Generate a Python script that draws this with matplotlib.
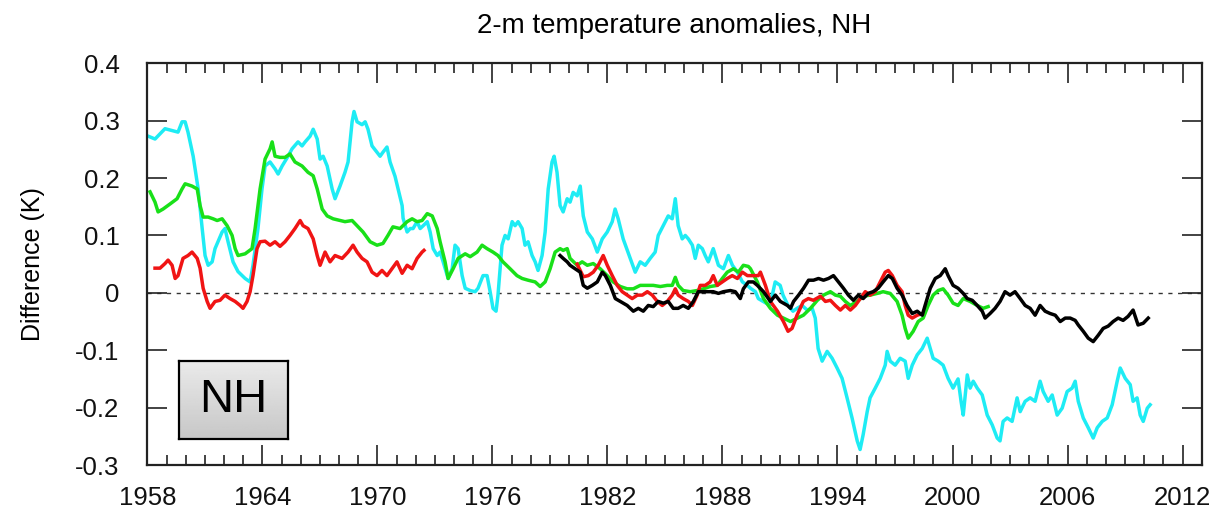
import numpy as np
import matplotlib
matplotlib.use("Agg")
import matplotlib.pyplot as plt
from matplotlib.ticker import MultipleLocator

plt.rcParams["font.family"] = ["Liberation Sans", "DejaVu Sans"]

# cyan run, 1958-2010
cyan_years = [1958.04, 1958.40, 1958.92, 1959.60, 1959.81, 1959.97, 1960.12, 1960.39, 1960.65, 1960.86,
              1961.01, 1961.17, 1961.38, 1961.53, 1961.90, 1962.05, 1962.21, 1962.47, 1962.73, 1963.10,
              1963.36, 1963.51, 1963.77, 1963.98, 1964.14, 1964.40, 1964.66, 1964.82, 1965.03, 1965.34,
              1965.55, 1965.86, 1966.07, 1966.23, 1966.49, 1966.65, 1966.86, 1967.01, 1967.17, 1967.38,
              1967.64, 1967.79, 1968.05, 1968.31, 1968.47, 1968.68, 1968.78, 1968.94, 1969.20, 1969.36,
              1969.51, 1969.72, 1969.98, 1970.14, 1970.29, 1970.50, 1970.66, 1970.92, 1971.08, 1971.29,
              1971.34, 1971.55, 1971.71, 1971.86, 1972.07, 1972.23, 1972.39, 1972.60, 1972.75, 1972.91,
              1973.12, 1973.27, 1973.43, 1973.69, 1973.90, 1974.05, 1974.21, 1974.42, 1974.58, 1974.84,
              1975.10, 1975.25, 1975.51, 1975.72, 1975.88, 1976.03, 1976.19, 1976.29, 1976.50, 1976.66,
              1976.82, 1977.03, 1977.18, 1977.34, 1977.55, 1977.70, 1977.86, 1978.07, 1978.23, 1978.38,
              1978.59, 1978.75, 1978.91, 1979.11, 1979.22, 1979.37, 1979.53, 1979.69, 1979.90, 1980.05,
              1980.21, 1980.42, 1980.58, 1980.74, 1980.95, 1981.21, 1981.47, 1981.73, 1981.99, 1982.25,
              1982.40, 1982.56, 1982.82, 1983.19, 1983.45, 1983.71, 1983.97, 1984.23, 1984.49, 1984.65,
              1984.91, 1985.17, 1985.38, 1985.54, 1985.69, 1985.90, 1986.06, 1986.22, 1986.43, 1986.58,
              1986.74, 1986.95, 1987.10, 1987.26, 1987.52, 1987.79, 1988.05, 1988.31, 1988.52, 1988.78,
              1989.04, 1989.30, 1989.46, 1989.72, 1989.87, 1990.12, 1990.48, 1990.75, 1991.01, 1991.16,
              1991.42, 1991.68, 1991.89, 1992.15, 1992.42, 1992.68, 1992.84, 1992.99, 1993.20, 1993.46,
              1993.72, 1993.98, 1994.24, 1994.50, 1994.76, 1995.03, 1995.18, 1995.34, 1995.55, 1995.70,
              1995.97, 1996.23, 1996.49, 1996.59, 1996.75, 1997.01, 1997.27, 1997.53, 1997.69, 1997.90,
              1998.16, 1998.42, 1998.68, 1998.84, 1998.99, 1999.25, 1999.51, 1999.77, 2000.03, 2000.29,
              2000.45, 2000.56, 2000.77, 2000.92, 2001.08, 2001.29, 2001.55, 2001.81, 2002.07, 2002.33,
              2002.48, 2002.64, 2002.85, 2003.11, 2003.37, 2003.53, 2003.79, 2004.05, 2004.31, 2004.57,
              2004.73, 2004.99, 2005.20, 2005.46, 2005.72, 2005.98, 2006.24, 2006.40, 2006.56, 2006.82,
              2007.08, 2007.34, 2007.55, 2007.81, 2008.07, 2008.33, 2008.59, 2008.75, 2009.01, 2009.27,
              2009.42, 2009.63, 2009.79, 2009.95, 2010.16, 2010.31]
cyan_vals = [0.273, 0.268, 0.286, 0.280, 0.298, 0.298, 0.280, 0.238, 0.181, 0.112,
             0.065, 0.048, 0.054, 0.077, 0.106, 0.112, 0.089, 0.054, 0.037, 0.025,
             0.019, 0.048, 0.112, 0.181, 0.221, 0.228, 0.216, 0.207, 0.221, 0.238,
             0.251, 0.263, 0.256, 0.263, 0.273, 0.285, 0.268, 0.233, 0.238, 0.221,
             0.181, 0.164, 0.186, 0.210, 0.228, 0.298, 0.316, 0.298, 0.293, 0.298,
             0.285, 0.256, 0.245, 0.238, 0.245, 0.254, 0.228, 0.203, 0.181, 0.152,
             0.130, 0.106, 0.112, 0.112, 0.124, 0.112, 0.117, 0.124, 0.106, 0.077,
             0.065, 0.071, 0.054, 0.025, 0.042, 0.083, 0.077, 0.030, 0.008, 0.004,
             0.002, 0.008, 0.030, 0.030, 0.002, -0.027, -0.032, -0.004, 0.083, 0.100,
             0.094, 0.124, 0.117, 0.124, 0.112, 0.083, 0.089, 0.065, 0.054, 0.039,
             0.065, 0.106, 0.181, 0.228, 0.238, 0.210, 0.152, 0.141, 0.164, 0.158,
             0.175, 0.169, 0.186, 0.134, 0.106, 0.094, 0.071, 0.094, 0.106, 0.124,
             0.146, 0.129, 0.094, 0.060, 0.036, 0.054, 0.048, 0.060, 0.071, 0.100,
             0.117, 0.134, 0.129, 0.164, 0.117, 0.094, 0.100, 0.094, 0.083, 0.060,
             0.083, 0.077, 0.065, 0.054, 0.077, 0.048, 0.042, 0.065, 0.048, 0.036,
             0.019, 0.013, 0.008, 0.002, -0.010, -0.015, -0.022, 0.019, 0.013, -0.004,
             -0.022, -0.032, -0.027, -0.022, -0.030, -0.027, -0.044, -0.097, -0.119, -0.102,
             -0.114, -0.131, -0.149, -0.183, -0.218, -0.258, -0.273, -0.247, -0.207, -0.183,
             -0.166, -0.149, -0.126, -0.102, -0.119, -0.126, -0.114, -0.119, -0.149, -0.126,
             -0.108, -0.097, -0.079, -0.097, -0.114, -0.119, -0.126, -0.149, -0.166, -0.150,
             -0.190, -0.213, -0.143, -0.166, -0.154, -0.166, -0.178, -0.213, -0.230, -0.253,
             -0.258, -0.224, -0.218, -0.224, -0.183, -0.207, -0.189, -0.183, -0.189, -0.154,
             -0.172, -0.189, -0.178, -0.213, -0.201, -0.172, -0.166, -0.154, -0.189, -0.218,
             -0.235, -0.253, -0.235, -0.224, -0.218, -0.195, -0.154, -0.131, -0.149, -0.160,
             -0.189, -0.183, -0.213, -0.224, -0.201, -0.195]

# green run, 1958-2001
green_years = [1958.14, 1958.40, 1958.56, 1958.82, 1959.19, 1959.55, 1959.81, 1959.97, 1960.33, 1960.60,
               1960.75, 1960.91, 1961.17, 1961.43, 1961.64, 1961.90, 1962.16, 1962.42, 1962.58, 1962.73,
               1963.10, 1963.46, 1963.62, 1963.88, 1964.14, 1964.40, 1964.51, 1964.66, 1964.92, 1965.18,
               1965.44, 1965.70, 1966.07, 1966.38, 1966.65, 1966.86, 1967.12, 1967.38, 1967.69, 1968.05,
               1968.31, 1968.68, 1968.94, 1969.25, 1969.62, 1969.98, 1970.29, 1970.55, 1970.81, 1971.18,
               1971.55, 1971.81, 1972.07, 1972.33, 1972.60, 1972.86, 1973.12, 1973.27, 1973.53, 1973.69,
               1973.95, 1974.21, 1974.58, 1974.84, 1975.20, 1975.46, 1975.72, 1976.03, 1976.29, 1976.55,
               1976.92, 1977.28, 1977.55, 1977.86, 1978.23, 1978.49, 1978.75, 1979.01, 1979.27, 1979.53,
               1979.69, 1979.90, 1980.05, 1980.42, 1980.68, 1980.95, 1981.26, 1981.62, 1981.99, 1982.30,
               1982.67, 1983.03, 1983.35, 1983.71, 1984.08, 1984.39, 1984.76, 1985.12, 1985.38, 1985.54,
               1985.69, 1985.95, 1986.32, 1986.68, 1987.00, 1987.36, 1987.73, 1987.99, 1988.25, 1988.57,
               1988.83, 1989.09, 1989.35, 1989.46, 1989.82, 1990.14, 1990.50, 1990.87, 1991.18, 1991.55,
               1991.91, 1992.22, 1992.59, 1992.95, 1993.27, 1993.63, 1993.89, 1994.15, 1994.41, 1994.67,
               1995.03, 1995.34, 1995.70, 1996.07, 1996.38, 1996.75, 1997.11, 1997.37, 1997.53, 1997.69,
               1997.95, 1998.21, 1998.47, 1998.73, 1998.99, 1999.25, 1999.51, 1999.77, 2000.03, 2000.29,
               2000.56, 2000.92, 2001.29, 2001.60, 2001.86]
green_vals = [0.176, 0.158, 0.141, 0.146, 0.155, 0.164, 0.181, 0.190, 0.186, 0.181,
              0.152, 0.132, 0.132, 0.129, 0.126, 0.129, 0.117, 0.100, 0.077, 0.065,
              0.068, 0.077, 0.112, 0.181, 0.233, 0.251, 0.263, 0.238, 0.236, 0.236,
              0.242, 0.228, 0.221, 0.210, 0.204, 0.181, 0.146, 0.134, 0.129, 0.126,
              0.124, 0.126, 0.117, 0.106, 0.089, 0.083, 0.086, 0.100, 0.115, 0.112,
              0.124, 0.129, 0.124, 0.126, 0.138, 0.134, 0.112, 0.089, 0.054, 0.025,
              0.042, 0.060, 0.068, 0.063, 0.071, 0.083, 0.077, 0.071, 0.065, 0.054,
              0.042, 0.030, 0.025, 0.022, 0.019, 0.011, 0.019, 0.042, 0.071, 0.077,
              0.074, 0.077, 0.060, 0.048, 0.054, 0.048, 0.051, 0.042, 0.030, 0.019,
              0.011, 0.007, 0.007, 0.013, 0.013, 0.013, 0.011, 0.013, 0.013, 0.027,
              0.013, 0.004, 0.002, 0.004, 0.007, 0.011, 0.013, 0.025, 0.036, 0.042,
              0.036, 0.048, 0.046, 0.042, 0.019, -0.010, -0.027, -0.039, -0.044, -0.050,
              -0.044, -0.039, -0.027, -0.013, -0.004, 0.002, -0.004, -0.006, -0.015, -0.022,
              -0.015, -0.006, -0.004, -0.001, 0.002, -0.001, -0.015, -0.039, -0.062, -0.079,
              -0.067, -0.050, -0.044, -0.022, -0.004, 0.004, 0.007, -0.004, -0.018, -0.022,
              -0.010, -0.015, -0.022, -0.027, -0.024]

# red, two separate runs
red_years_a = [1958.40, 1958.66, 1958.92, 1959.08, 1959.29, 1959.45, 1959.60, 1959.86, 1960.12, 1960.33,
               1960.60, 1960.75, 1960.91, 1961.12, 1961.27, 1961.53, 1961.79, 1962.05, 1962.31, 1962.58,
               1962.84, 1962.99, 1963.20, 1963.36, 1963.51, 1963.72, 1963.88, 1964.14, 1964.40, 1964.66,
               1964.92, 1965.18, 1965.44, 1965.70, 1965.97, 1966.12, 1966.38, 1966.65, 1966.86, 1967.01,
               1967.27, 1967.53, 1967.79, 1968.16, 1968.47, 1968.73, 1968.94, 1969.20, 1969.46, 1969.72,
               1969.98, 1970.24, 1970.50, 1970.76, 1971.02, 1971.29, 1971.55, 1971.81, 1972.07, 1972.33,
               1972.43]
red_vals_a = [0.043, 0.043, 0.051, 0.057, 0.048, 0.025, 0.030, 0.060, 0.065, 0.071,
              0.060, 0.043, 0.008, -0.015, -0.027, -0.015, -0.013, -0.004, -0.010, -0.015,
              -0.022, -0.027, -0.015, 0.002, 0.030, 0.077, 0.089, 0.090, 0.083, 0.089,
              0.081, 0.089, 0.100, 0.112, 0.126, 0.117, 0.112, 0.094, 0.065, 0.048,
              0.071, 0.054, 0.065, 0.060, 0.071, 0.083, 0.071, 0.060, 0.054, 0.036,
              0.030, 0.039, 0.030, 0.042, 0.054, 0.034, 0.048, 0.042, 0.060, 0.071,
              0.074]
red_years_b = [1980.42, 1980.74, 1981.00, 1981.26, 1981.52, 1981.78, 1981.99, 1982.25, 1982.51, 1982.77,
               1983.03, 1983.29, 1983.56, 1983.82, 1984.08, 1984.34, 1984.60, 1984.86, 1985.12, 1985.38,
               1985.54, 1985.69, 1985.95, 1986.22, 1986.43, 1986.68, 1986.84, 1987.10, 1987.36, 1987.52,
               1987.73, 1987.99, 1988.25, 1988.51, 1988.78, 1989.04, 1989.30, 1989.56, 1989.87, 1989.98,
               1990.24, 1990.50, 1990.87, 1991.18, 1991.42, 1991.63, 1991.89, 1992.22, 1992.48, 1992.74,
               1993.11, 1993.37, 1993.63, 1993.89, 1994.15, 1994.41, 1994.67, 1994.93, 1995.19, 1995.45,
               1995.70, 1995.97, 1996.23, 1996.49, 1996.65, 1996.86, 1997.11, 1997.37, 1997.53, 1997.69,
               1997.90, 1998.16, 1998.42]
red_vals_b = [0.050, 0.028, 0.030, 0.036, 0.048, 0.065, 0.048, 0.030, 0.013, 0.002,
              -0.004, -0.010, -0.004, -0.004, 0.002, -0.004, -0.015, -0.022, -0.015, -0.004,
              0.007, -0.004, -0.010, -0.015, -0.022, -0.004, 0.013, 0.013, 0.019, 0.030,
              0.013, 0.019, 0.025, 0.030, 0.025, 0.036, 0.030, 0.030, 0.030, 0.036,
              0.013, -0.015, -0.032, -0.050, -0.067, -0.062, -0.039, -0.015, -0.010, -0.013,
              -0.006, -0.015, -0.013, -0.022, -0.030, -0.022, -0.030, -0.022, -0.010, 0.002,
              -0.004, 0.002, 0.019, 0.036, 0.039, 0.030, 0.013, 0.002, -0.022, -0.039,
              -0.044, -0.039, -0.036]

# black run, 1979-2010
black_years = [1979.53, 1979.69, 1979.90, 1980.05, 1980.31, 1980.58, 1980.74, 1980.95, 1981.21, 1981.47,
               1981.73, 1981.89, 1982.15, 1982.41, 1982.67, 1983.03, 1983.35, 1983.61, 1983.87, 1984.13,
               1984.39, 1984.65, 1984.91, 1985.17, 1985.43, 1985.69, 1985.95, 1986.22, 1986.48, 1986.74,
               1987.00, 1987.26, 1987.52, 1987.79, 1988.05, 1988.41, 1988.67, 1988.93, 1989.09, 1989.35,
               1989.61, 1989.82, 1990.14, 1990.50, 1990.76, 1991.02, 1991.39, 1991.55, 1991.71, 1991.97,
               1992.23, 1992.49, 1992.75, 1993.01, 1993.27, 1993.53, 1993.79, 1994.05, 1994.31, 1994.57,
               1994.83, 1995.09, 1995.34, 1995.60, 1995.86, 1996.12, 1996.38, 1996.65, 1996.86, 1997.11,
               1997.37, 1997.63, 1997.90, 1998.16, 1998.42, 1998.57, 1998.84, 1999.10, 1999.36, 1999.62,
               1999.77, 2000.03, 2000.29, 2000.56, 2000.77, 2001.03, 2001.29, 2001.55, 2001.70, 2001.96,
               2002.22, 2002.48, 2002.74, 2003.00, 2003.26, 2003.53, 2003.79, 2004.05, 2004.31, 2004.57,
               2004.83, 2005.09, 2005.36, 2005.62, 2005.88, 2006.14, 2006.40, 2006.56, 2006.82, 2007.08,
               2007.34, 2007.60, 2007.86, 2008.12, 2008.38, 2008.64, 2008.90, 2009.16, 2009.42, 2009.68,
               2009.95, 2010.21]
black_vals = [0.065, 0.060, 0.054, 0.048, 0.042, 0.036, 0.013, 0.008, 0.013, 0.019,
              0.036, 0.030, 0.013, -0.010, -0.015, -0.022, -0.032, -0.027, -0.032, -0.022,
              -0.024, -0.015, -0.018, -0.015, -0.027, -0.027, -0.022, -0.027, -0.015, 0.002,
              0.002, 0.002, 0.002, -0.001, 0.002, 0.004, 0.002, -0.010, 0.007, 0.019,
              0.019, 0.013, 0.002, -0.015, -0.004, -0.015, -0.022, -0.027, -0.015, -0.004,
              0.008, 0.022, 0.022, 0.025, 0.022, 0.025, 0.030, 0.019, 0.008, -0.004,
              -0.013, -0.004, -0.010, -0.001, 0.002, 0.008, 0.019, 0.030, 0.025, 0.008,
              -0.004, -0.022, -0.036, -0.032, -0.039, -0.022, 0.008, 0.025, 0.030, 0.042,
              0.030, 0.013, 0.008, -0.001, -0.010, -0.013, -0.022, -0.032, -0.044, -0.036,
              -0.027, -0.015, 0.002, -0.004, 0.002, -0.010, -0.022, -0.027, -0.039, -0.022,
              -0.032, -0.036, -0.039, -0.050, -0.044, -0.044, -0.048, -0.056, -0.067, -0.079,
              -0.085, -0.074, -0.062, -0.058, -0.050, -0.044, -0.048, -0.041, -0.030, -0.056,
              -0.053, -0.044]

year_ticks = [1958, 1964, 1970, 1976, 1982, 1988, 1994, 2000, 2006, 2012]

fig = plt.figure(figsize=(12.29, 5.11), dpi=100)
ax = fig.add_axes([0.1199, 0.0900, 0.8579, 0.7862])

ax.axhline(0, color="#333333", lw=1.0, ls=(0, (3, 4)), zorder=1)

lw = 2.5
ax.plot(cyan_years, cyan_vals, color="#1eecf4", lw=lw, zorder=2)
ax.plot(green_years, green_vals, color="#19e019", lw=lw, zorder=3)
ax.plot(red_years_a, red_vals_a, color="#f01414", lw=lw, zorder=4)
ax.plot(red_years_b, red_vals_b, color="#f01414", lw=lw, zorder=4)
ax.plot(black_years, black_vals, color="black", lw=lw, zorder=5)

ax.set_xlim(1958, 2013)
ax.set_ylim(-0.3, 0.4)
ax.set_xticks(year_ticks)
ax.xaxis.set_minor_locator(MultipleLocator(1))
ax.yaxis.set_major_locator(MultipleLocator(0.1))
ax.set_yticklabels([f"{v:.1f}".replace("-0.0", "0").replace("0.0", "0")
                    for v in ax.get_yticks()])

ax.tick_params(which="both", direction="in", top=True, right=True,
               width=1.2, colors="#222222", labelcolor="#111111")
ax.tick_params(which="major", length=14.5, labelsize=18.5)
ax.tick_params(axis="x", which="major", pad=15)
ax.tick_params(axis="y", which="major", pad=20)
ax.tick_params(which="minor", length=7)
for sp in ax.spines.values():
    sp.set_linewidth(1.6)
    sp.set_color("#222222")

ax.set_ylabel("Difference (K)", fontsize=18, labelpad=22)
ax.set_title("2-m temperature anomalies, NH", fontsize=20, pad=22)

# region tag with a soft grey gradient
tag = fig.add_axes([0.1456, 0.1403, 0.0889, 0.1532])
grad = np.linspace(0.92, 0.78, 64).reshape(-1, 1)
tag.imshow(grad, cmap="gray", vmin=0, vmax=1, aspect="auto",
           extent=[0, 1, 0, 1], origin="upper")
tag.set_xticks([])
tag.set_yticks([])
for sp in tag.spines.values():
    sp.set_linewidth(1.6)
tag.text(0.5, 0.5, "NH", fontsize=34, ha="center", va="center",
         transform=tag.transAxes)

fig.savefig("out.png", dpi=100)
